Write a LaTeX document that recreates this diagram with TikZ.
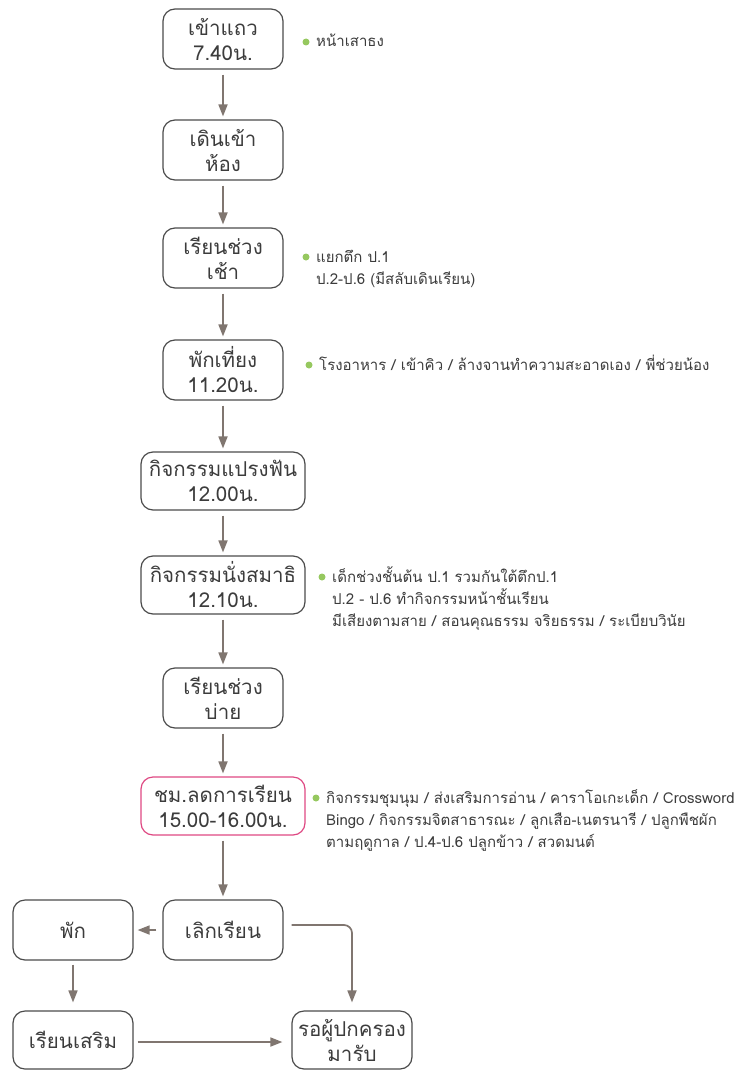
\documentclass[tikz,border=0pt]{standalone}
\usepackage{fontspec}
\newfontfamily\thaifont[Script=Thai]{Loma}
\usetikzlibrary{arrows.meta}
\definecolor{flowline}{RGB}{128,118,112}
\definecolor{boxline}{RGB}{75,75,75}
\definecolor{pinkline}{RGB}{222,72,130}
\definecolor{dotgreen}{RGB}{150,200,95}
\definecolor{ink}{RGB}{60,60,60}
\begin{document}
\begin{tikzpicture}[x=1pt,y=-1pt,
  stepbox/.style={draw=boxline, line width=1.2pt, rounded corners=12pt,
    minimum width=120pt, minimum height=60pt, inner sep=0pt, align=center,
    text=ink, font=\thaifont\fontsize{20.5}{25}\selectfont},
  widebox/.style={stepbox, minimum width=164pt, minimum height=58pt},
  flow/.style={draw=flowline, line width=1.7pt,
    -{Triangle[length=12pt,width=9pt]}, shorten <=5pt, shorten >=3pt},
  note/.style={anchor=base west, inner sep=0pt, text=ink,
    font=\thaifont\fontsize{15}{22}\selectfont},
  notedot/.style={fill=dotgreen, circle, inner sep=0pt, minimum size=7pt}
]
\useasboundingbox (0,0) rectangle (744,1070);

% main column of steps
\node[stepbox] (s1) at (223,39)  {เข้าแถว\\7.40น.};
\node[stepbox] (s2) at (223,150) {เดินเข้า\\ห้อง};
\node[stepbox] (s3) at (223,258) {เรียนช่วง\\เช้า};
\node[stepbox] (s4) at (223,370) {พักเที่ยง\\11.20น.};
\node[widebox] (s5) at (223,481) {กิจกรรมแปรงฟัน\\12.00น.};
\node[widebox] (s6) at (223,585) {กิจกรรมนั่งสมาธิ\\12.10น.};
\node[stepbox] (s7) at (223,698) {เรียนช่วง\\บ่าย};
\node[widebox, draw=pinkline] (s8) at (223,806) {ชม.ลดการเรียน\\15.00-16.00น.};
\node[stepbox] (s9) at (223,930) {เลิกเรียน};

% after school
\node[stepbox] (rest)  at (73,930)  {พัก};
\node[stepbox, minimum height=58pt] (extra) at (73,1040) {เรียนเสริม};
\node[stepbox, minimum height=58pt] (home)  at (352,1040) {รอผู้ปกครอง\\มารับ};

% connectors
\draw[flow] (s1) -- (s2);
\draw[flow] (s2) -- (s3);
\draw[flow] (s3) -- (s4);
\draw[flow] (s4) -- (s5);
\draw[flow] (s5) -- (s6);
\draw[flow] (s6) -- (s7);
\draw[flow] (s7) -- (s8);
\draw[flow] (s8) -- (s9);
\draw[flow, shorten >=4pt, shorten <=6pt] (s9) -- (rest);
\draw[flow, rounded corners=8pt, shorten <=8pt, shorten >=8pt]
  ([yshift=5pt]s9.east) -| (home.north);
\draw[flow, shorten >=8pt, shorten <=4pt] (rest) -- (extra);
\draw[flow, shorten >=9pt, shorten <=4pt] ([yshift=-2pt]extra.east) -- ([yshift=-2pt]home.west);

% notes beside the steps
\node[notedot] (d1) at (306,42) {};
\node[note] (n1) at (316,47) {หน้าเสาธง};

\node[notedot] (d3) at (306,257) {};
\node[note] (n3a) at (316,262) {แยกตึก ป.1};
\node[note] (n3b) at (316,284) {ป.2-ป.6 (มีสลับเดินเรียน)};

\node[notedot] (d4) at (309,365) {};
\node[note] (n4) at (319,370) {โรงอาหาร / เข้าคิว / ล้างจานทำความสะอาดเอง / พี่ช่วยน้อง};

\node[notedot] (d6) at (322,577) {};
\node[note] (n6a) at (332,582) {เด็กช่วงชั้นต้น ป.1 รวมกันใต้ตึกป.1};
\node[note] (n6b) at (332,604) {ป.2 - ป.6 ทำกิจกรรมหน้าชั้นเรียน};
\node[note] (n6c) at (332,626) {มีเสียงตามสาย / สอนคุณธรรม จริยธรรม / ระเบียบวินัย};

\node[notedot] (d8) at (316,798) {};
\node[note] (n8a) at (326,803) {กิจกรรมชุมนุม / ส่งเสริมการอ่าน / คาราโอเกะเด็ก / Crossword};
\node[note] (n8b) at (326,825) {Bingo / กิจกรรมจิตสาธารณะ / ลูกเสือ-เนตรนารี / ปลูกพืชผัก};
\node[note] (n8c) at (326,847) {ตามฤดูกาล / ป.4-ป.6 ปลูกข้าว / สวดมนต์};
\end{tikzpicture}
\end{document}
